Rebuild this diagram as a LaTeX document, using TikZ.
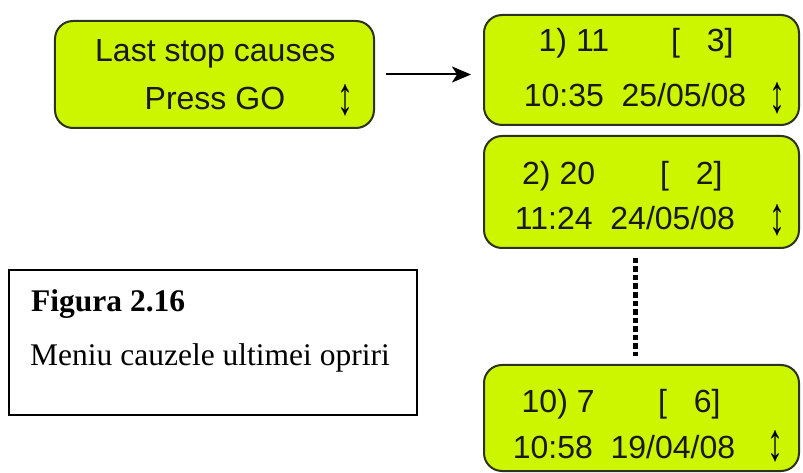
\documentclass[tikz,border=0pt]{standalone}
\usepackage{fontspec}
\setmainfont{Liberation Serif}
\newfontfamily\lcdfont{Liberation Sans}
\usetikzlibrary{arrows.meta}
\definecolor{lcdgreen}{RGB}{204,245,0}
\definecolor{lcdborder}{RGB}{45,50,30}
\newcommand{\updownsym}{\resizebox{16bp}{30bp}{↕}}
\begin{document}
\begin{tikzpicture}[x=1bp,y=-1bp,
  lcdbox/.style={draw=lcdborder, line width=2bp, fill=lcdgreen, rounded corners=18bp,
    inner sep=0pt, minimum width=315bp, minimum height=110bp},
  lcdtxt/.style={font=\lcdfont\fontsize{32bp}{38bp}\selectfont, inner sep=0pt, anchor=base west, text=black!90},
  lcdmid/.style={lcdtxt, anchor=base},
  updown/.style={font=\lcdfont\fontsize{32bp}{38bp}\selectfont, inner sep=0pt, anchor=center},
  captxt/.style={inner sep=0pt, anchor=base west}]
\useasboundingbox (0,0) rectangle (803,473);
% boxes
\node[lcdbox, minimum width=319bp, minimum height=107bp] (menu) at (214.5,74.5) {};
\node[lcdbox] (r1) at (641.5,70) {};
\node[lcdbox, minimum height=112bp] (r2) at (641.5,192) {};
\node[lcdbox, minimum height=106bp] (r10) at (641.5,418) {};
% menu text
\node[lcdtxt] (m1) at (95,62) {Last stop causes};
\node[lcdtxt] (m2) at (144.5,110) {Press GO};
\node[updown] (ms) at (345,100) {\updownsym};
% record 1
\node[lcdtxt] (a1) at (538.5,52) {1) 11};
\node[lcdtxt] (a2) at (671,52) {[~~~3]};
\node[lcdmid] (a3) at (635,107) {10:35~~25/05/08};
\node[updown] (as) at (777,98) {\updownsym};
% record 2
\node[lcdtxt] (b1) at (522,185) {2) 20};
\node[lcdtxt] (b2) at (660,185) {[~~~2]};
\node[lcdmid] (b3) at (625,230) {11:24~~24/05/08};
\node[updown] (bs) at (777,220) {\updownsym};
% record 10
\node[lcdtxt] (c1) at (521.5,412) {10) 7};
\node[lcdtxt] (c2) at (658,412) {[~~~6]};
\node[lcdmid] (c3) at (624,458) {10:58~~19/04/08};
\node[updown] (cs) at (775,446) {\updownsym};
% connectors
\draw[line width=2bp, -{Stealth[length=19bp,width=16bp,inset=5bp]}, shorten <=11bp, shorten >=12bp]
  (menu.east) -- (menu.east -| r1.west);
\draw[line width=5bp, dash pattern=on 5.5bp off 3bp, shorten <=9bp, shorten >=8bp]
  ([xshift=-6.5bp]r2.south) -- ([xshift=-6.5bp]r10.north);
% caption
\node[draw, line width=1.8bp, minimum width=408bp, minimum height=145bp, inner sep=0pt] (cap) at (213,342.5) {};
\node[captxt, font=\bfseries\fontsize{31.5bp}{38bp}\selectfont] (capt) at (31,312) {Figura 2.16};
\node[captxt, font=\fontsize{31.5bp}{38bp}\selectfont] (capd) at (30,366) {Meniu cauzele ultimei opriri};
\end{tikzpicture}
\end{document}
